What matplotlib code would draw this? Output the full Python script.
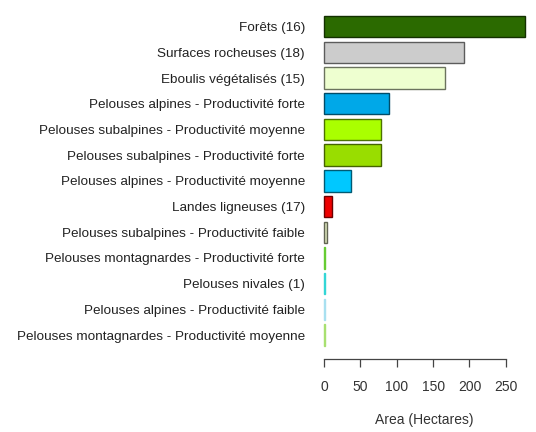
import numpy as np
import matplotlib
matplotlib.use("Agg")
import matplotlib.pyplot as plt
from matplotlib.colors import to_rgb

# Surfaces par type de végétation (hectares), du plus grand au plus petit
classes = [
    "Forêts (16)",
    "Surfaces rocheuses (18)",
    "Eboulis végétalisés (15)",
    "Pelouses alpines - Productivité forte",
    "Pelouses subalpines - Productivité moyenne",
    "Pelouses subalpines - Productivité forte",
    "Pelouses alpines - Productivité moyenne",
    "Landes ligneuses (17)",
    "Pelouses subalpines - Productivité faible",
    "Pelouses montagnardes - Productivité forte",
    "Pelouses nivales (1)",
    "Pelouses alpines - Productivité faible",
    "Pelouses montagnardes - Productivité moyenne",
]
area = [276.5, 192.0, 166.0, 89.0, 79.0, 79.0, 36.5, 11.5, 4.5, 1.2, 1.5, 0.6, 0.6]
couleurs = [
    "#2b6a00", "#cccccc", "#eeffd0", "#00a8e8", "#aaff00", "#99dd00",
    "#00c8ff", "#ee0000", "#d8e0b8", "#66cc33", "#33d6d6", "#a8e0f0", "#a8e070",
]

plt.rcParams["font.family"] = ["Liberation Sans", "DejaVu Sans"]
plt.rcParams["font.size"] = 10

fig = plt.figure(figsize=(5.36, 4.32), dpi=100)
ax = fig.add_axes([0.5896, 0.1692, 0.405, 0.8243])

# positions façon barplot de R : largeur 1, espace 0.2, premier en haut
n = len(classes)
pos = 0.2 + 0.5 + 1.2 * np.arange(n)[::-1]
bords = [tuple(0.45 * c for c in to_rgb(col)) if a > 3 else col
         for col, a in zip(couleurs, area)]
ax.barh(pos, area, height=1.0, color=couleurs, edgecolor=bords, linewidth=1.0)

# limites avec l'extension de 4 %
ymax = 1.2 * n
ext = 0.04 * (ymax - 0.2)
ax.set_ylim(0.2 - ext, ymax + ext)
xmax = max(area)
ax.set_xlim(-0.04 * xmax, xmax * 1.04)

ax.set_yticks(pos)
ax.set_yticklabels(classes, color="#222222", fontsize=9.7)
ax.tick_params(axis="y", left=False, pad=4.5)

ax.set_xticks([0, 50, 100, 150, 200, 250])
ax.tick_params(axis="x", length=5.5, width=0.9, color="#444444",
               labelcolor="#333333", pad=9.5)
ax.set_xlabel("Area (Hectares)", color="#333333", labelpad=14)

for s in ["top", "right", "left"]:
    ax.spines[s].set_visible(False)
ax.spines["bottom"].set_bounds(0, 250)
ax.spines["bottom"].set_color("#444444")
ax.spines["bottom"].set_linewidth(0.9)

fig.savefig("out.png", dpi=100)
